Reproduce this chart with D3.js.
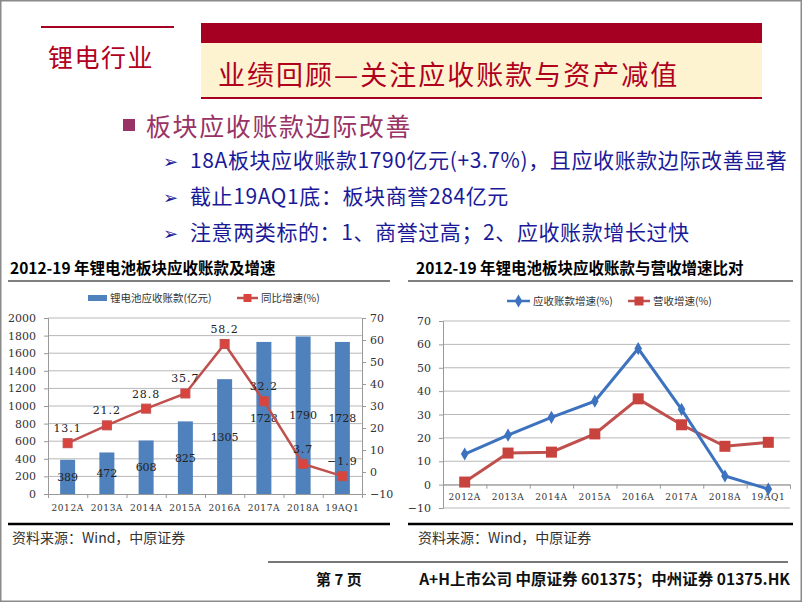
<!DOCTYPE html>
<html>
<head>
<meta charset="utf-8">
<script src="https://cdn.jsdelivr.net/npm/d3@7"></script>
<style>
  body { margin: 0; background: #fff; }
  svg { display: block; font-family: "Noto Sans CJK SC", "Noto Sans", sans-serif; }
</style>
</head>
<body>
<svg id="page" width="802" height="602"></svg>
<script>
/* Data */
var categories = ["2012A", "2013A", "2014A", "2015A", "2016A", "2017A", "2018A", "19AQ1"];
var receivables = [389, 472, 608, 825, 1305, 1728, 1790, 1728];
var receivableGrowth = [13.1, 21.2, 28.8, 35.7, 58.2, 32.2, 3.7, -1.9];
var revenueGrowth = [1.1, 13.5, 13.9, 21.7, 36.7, 25.6, 16.4, 18.1];
var leftTicks = [0, 200, 400, 600, 800, 1000, 1200, 1400, 1600, 1800, 2000];
var pctTicks = [-10, 0, 10, 20, 30, 40, 50, 60, 70];

var bullets = [
  "18A板块应收账款1790亿元(+3.7%)，且应收账款边际改善显著",
  "截止19AQ1底：板块商誉284亿元",
  "注意两类标的：1、商誉过高；2、应收账款增长过快"
];

var blue = "#4f81bd", red = "#c0504d", grid = "#b8b8b8", dark = "#222";
var svg = d3.select("#page");

/* page frame */
svg.append("rect").attr("x", 0.5).attr("y", 0.5).attr("width", 801).attr("height", 601)
   .attr("fill", "none").attr("stroke", "#8a8a8a").attr("stroke-width", 2);

/* header */
svg.append("line").attr("x1", 41).attr("x2", 174).attr("y1", 27).attr("y2", 27)
   .attr("stroke", "#a50021").attr("stroke-width", 2);
svg.append("text").attr("x", 48).attr("y", 67).text("锂电行业")
   .attr("font-size", 25).attr("fill", "#b0001e").attr("letter-spacing", 1.5);
svg.append("rect").attr("x", 201).attr("y", 23).attr("width", 561).attr("height", 20).attr("fill", "#a50021");
svg.append("rect").attr("x", 201).attr("y", 43).attr("width", 561).attr("height", 54).attr("fill", "#fdf3d0");
svg.append("rect").attr("x", 201).attr("y", 97).attr("width", 561).attr("height", 2).attr("fill", "#a50021");
svg.append("text").attr("x", 218).attr("y", 85).text("业绩回顾—关注应收账款与资产减值")
   .attr("font-size", 27).attr("letter-spacing", 2).attr("fill", "#b0001e");

svg.append("rect").attr("x", 123).attr("y", 119).attr("width", 12).attr("height", 12).attr("fill", "#993366");
svg.append("text").attr("x", 146).attr("y", 136).text("板块应收账款边际改善")
   .attr("font-size", 25).attr("letter-spacing", 1.6).attr("fill", "#993366");

svg.selectAll("g.bullet").data(bullets).enter().append("g").attr("class", "bullet")
  .each(function(d, i) {
    var g = d3.select(this), y = 168 + i * 36;
    g.append("text").attr("x", 163).attr("y", y).text("➢").attr("font-size", 18).attr("fill", "#1a1a99");
    g.append("text").attr("x", 190).attr("y", y).text(d).attr("font-size", 21)
     .attr("letter-spacing", 0.6).attr("fill", "#1a1a99");
  });

/* chart frames */
function frame(x0, x1, tx, title) {
  svg.append("text").attr("x", tx).attr("y", 274).text(title)
     .attr("font-size", 15.5).attr("font-weight", "bold").attr("fill", "#000");
  svg.append("line").attr("x1", x0).attr("x2", x1).attr("y1", 281).attr("y2", 281)
     .attr("stroke", "#000").attr("stroke-width", 1.2);
  svg.append("line").attr("x1", x0).attr("x2", x1).attr("y1", 524).attr("y2", 524)
     .attr("stroke", "#000").attr("stroke-width", 2.5);
  svg.append("text").attr("x", tx + 2).attr("y", 543).text("资料来源：Wind，中原证券")
     .attr("font-size", 14).attr("fill", "#333");
}
frame(8, 390, 10, "2012-19 年锂电池板块应收账款及增速");
frame(408, 793, 416, "2012-19 年锂电池板块应收账款与营收增速比对");

/* ---- left chart ---- */
var L = svg.append("g");
var yL = d3.scaleLinear().domain([0, 2000]).range([494, 318]);
var yR = d3.scaleLinear().domain([-10, 70]).range([494, 318]);
var xL = d3.scaleBand().domain(categories).range([48, 362]);

L.selectAll("line.grid").data(leftTicks.slice(1)).enter().append("line")
  .attr("x1", 48).attr("x2", 362).attr("y1", function(d) { return yL(d); }).attr("y2", function(d) { return yL(d); })
  .attr("stroke", grid).attr("stroke-width", 1);

var axL = L.append("g").attr("transform", "translate(48,0)")
  .call(d3.axisLeft(yL).tickValues(leftTicks).tickFormat(d3.format("d")).tickSize(4).tickPadding(8));
var axR = L.append("g").attr("transform", "translate(362,0)")
  .call(d3.axisRight(yR).tickValues(pctTicks).tickSize(4).tickPadding(4));
var axB = L.append("g").attr("transform", "translate(0,494)")
  .call(d3.axisBottom(d3.scaleLinear().domain([0, categories.length]).range([48, 362]))
        .tickValues(d3.range(categories.length + 1)).tickSize(4).tickFormat(""));
[axL, axR, axB].forEach(function(a) {
  a.select(".domain").attr("stroke", "#999");
  a.selectAll(".tick line").attr("stroke", "#999");
  a.selectAll("text").attr("font-size", 11).attr("fill", "#333").attr("font-family", "DejaVu Serif");
});

function cx(i) { return xL(categories[i]) + xL.bandwidth() / 2; }

L.selectAll("text.cat").data(categories).enter().append("text").attr("class", "cat")
  .attr("x", function(d, i) { return cx(i); }).attr("y", 511)
  .attr("text-anchor", "middle").attr("font-size", 9).attr("letter-spacing", 0.6)
  .attr("font-family", "DejaVu Serif").attr("fill", "#333").text(function(d) { return d; });

L.selectAll("rect.bar").data(receivables).enter().append("rect").attr("class", "bar")
  .attr("x", function(d, i) { return cx(i) - 7.5; })
  .attr("width", 15)
  .attr("y", function(d) { return yL(d); })
  .attr("height", function(d) { return yL(0) - yL(d); })
  .attr("fill", blue);

L.selectAll("text.barlab").data(receivables).enter().append("text").attr("class", "barlab")
  .attr("x", function(d, i) { return cx(i); })
  .attr("y", function(d) { return (yL(d) + yL(0)) / 2 + 4; })
  .attr("text-anchor", "middle").attr("font-size", 11).attr("font-family", "DejaVu Serif")
  .attr("fill", dark).text(function(d) { return d; });

var lineL = d3.line().x(function(d, i) { return cx(i); }).y(function(d) { return yR(d); });
L.append("path").datum(receivableGrowth).attr("d", lineL)
  .attr("fill", "none").attr("stroke", red).attr("stroke-width", 2.5);
L.selectAll("rect.mk").data(receivableGrowth).enter().append("rect").attr("class", "mk")
  .attr("x", function(d, i) { return cx(i) - 4.5; })
  .attr("y", function(d) { return yR(d) - 4.5; })
  .attr("width", 9).attr("height", 9).attr("fill", "#d9443f").attr("stroke", red);
L.selectAll("text.plab").data(receivableGrowth).enter().append("text").attr("class", "plab")
  .attr("x", function(d, i) { return cx(i); })
  .attr("y", function(d) { return yR(d) - 11; })
  .attr("text-anchor", "middle").attr("font-size", 11).attr("font-family", "DejaVu Serif")
  .attr("letter-spacing", 1).attr("fill", dark).text(function(d) { return d3.format(".1f")(d); });

/* left legend */
L.append("rect").attr("x", 88).attr("y", 295).attr("width", 19).attr("height", 6).attr("fill", blue);
L.append("text").attr("x", 110).attr("y", 302).text("锂电池应收账款(亿元)").attr("font-size", 10.5).attr("fill", "#333");
L.append("line").attr("x1", 237).attr("x2", 258).attr("y1", 298).attr("y2", 298).attr("stroke", red).attr("stroke-width", 2.5);
L.append("rect").attr("x", 243.5).attr("y", 294).attr("width", 8).attr("height", 8).attr("fill", "#d9443f");
L.append("text").attr("x", 261).attr("y", 302).text("同比增速(%)").attr("font-size", 10.5).attr("fill", "#333");

/* ---- right chart ---- */
var R = svg.append("g");
var xP = d3.scalePoint().domain(categories).range([443, 790]).padding(0.5);
var yP = d3.scaleLinear().domain([-10, 70]).range([508, 321]);

R.selectAll("line.grid").data(pctTicks).enter().append("line")
  .attr("x1", 443).attr("x2", 790).attr("y1", function(d) { return yP(d); }).attr("y2", function(d) { return yP(d); })
  .attr("stroke", grid).attr("stroke-width", 1);
var axP = R.append("g").attr("transform", "translate(443,0)")
  .call(d3.axisLeft(yP).tickValues(pctTicks).tickSize(4).tickPadding(8));
var axPB = R.append("g").attr("transform", "translate(0," + yP(0) + ")")
  .call(d3.axisBottom(d3.scaleLinear().domain([0, categories.length]).range([443, 790]))
        .tickValues(d3.range(categories.length + 1)).tickSize(4).tickFormat(""));
[axP, axPB].forEach(function(a) {
  a.select(".domain").attr("stroke", "#999");
  a.selectAll(".tick line").attr("stroke", "#999");
  a.selectAll("text").attr("font-size", 11).attr("fill", "#333").attr("font-family", "DejaVu Serif");
});
R.selectAll("text.cat").data(categories).enter().append("text").attr("class", "cat")
  .attr("x", function(d) { return xP(d); }).attr("y", yP(0) + 15)
  .attr("text-anchor", "middle").attr("font-size", 9).attr("letter-spacing", 0.6)
  .attr("font-family", "DejaVu Serif").attr("fill", "#333").text(function(d) { return d; });

var lineP = d3.line().x(function(d, i) { return xP(categories[i]); }).y(function(d) { return yP(d); });
R.append("path").datum(revenueGrowth).attr("d", lineP)
  .attr("fill", "none").attr("stroke", red).attr("stroke-width", 3);
R.append("path").datum(receivableGrowth).attr("d", lineP)
  .attr("fill", "none").attr("stroke", "#3d72bf").attr("stroke-width", 3);
R.selectAll("rect.mk").data(revenueGrowth).enter().append("rect").attr("class", "mk")
  .attr("x", function(d, i) { return xP(categories[i]) - 5.5; })
  .attr("y", function(d) { return yP(d) - 5.5; })
  .attr("width", 11).attr("height", 11).attr("fill", "#c8423e");
var diamond = d3.symbol().type(d3.symbolDiamond).size(50);
R.selectAll("path.dm").data(receivableGrowth).enter().append("path").attr("class", "dm")
  .attr("d", diamond)
  .attr("transform", function(d, i) { return "translate(" + xP(categories[i]) + "," + yP(d) + ")"; })
  .attr("fill", "#3d72bf");

/* right legend */
R.append("line").attr("x1", 507).attr("x2", 530).attr("y1", 301).attr("y2", 301).attr("stroke", "#3d72bf").attr("stroke-width", 2.5);
R.append("path").attr("d", diamond).attr("transform", "translate(518.5,301)").attr("fill", "#3d72bf");
R.append("text").attr("x", 533).attr("y", 305).text("应收账款增速(%)").attr("font-size", 10.5).attr("fill", "#333");
R.append("line").attr("x1", 628).attr("x2", 650).attr("y1", 301).attr("y2", 301).attr("stroke", red).attr("stroke-width", 2.5);
R.append("rect").attr("x", 634.5).attr("y", 296.5).attr("width", 9).attr("height", 9).attr("fill", "#c8423e");
R.append("text").attr("x", 653).attr("y", 305).text("营收增速(%)").attr("font-size", 10.5).attr("fill", "#333");

/* footer */
svg.append("line").attr("x1", 268).attr("x2", 788).attr("y1", 562).attr("y2", 562)
   .attr("stroke", "#777").attr("stroke-width", 2);
svg.append("text").attr("x", 316).attr("y", 585).text("第 7 页")
   .attr("font-size", 15).attr("font-weight", "bold").attr("fill", "#111");
svg.append("text").attr("x", 790).attr("y", 585).attr("text-anchor", "end")
   .text("A+H上市公司 中原证券 601375；中州证券 01375.HK")
   .attr("font-size", 15.5).attr("font-weight", "bold").attr("fill", "#111");
</script>
</body>
</html>
